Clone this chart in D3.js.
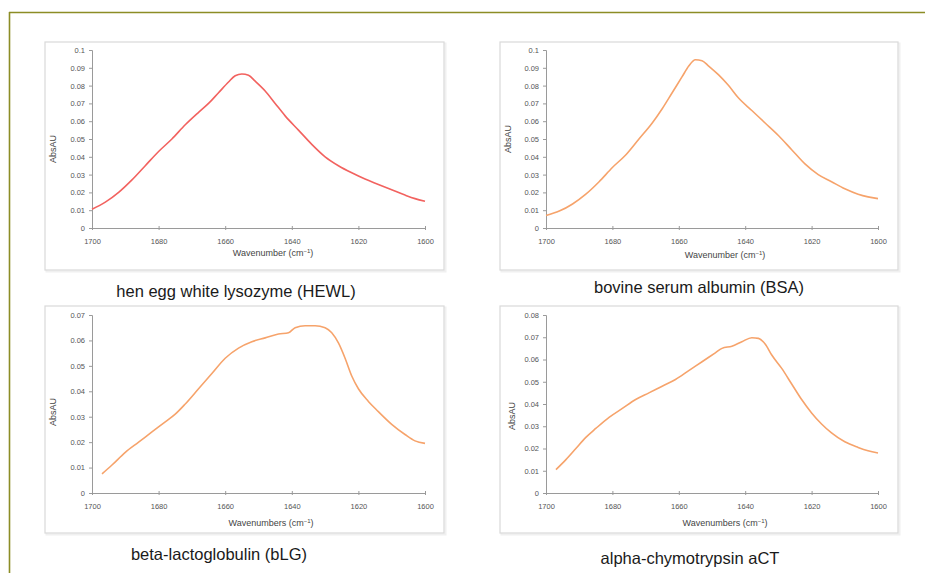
<!DOCTYPE html>
<html>
<head>
<meta charset="utf-8">
<script src="https://cdn.jsdelivr.net/npm/d3@7"></script>
<style>
  html, body { margin: 0; padding: 0; background: #fff; }
  svg { display: block; }
  text { font-family: "Liberation Sans", Arial, sans-serif; }
</style>
</head>
<body>
<svg id="chart" width="925" height="573"></svg>
<script>
// FTIR amide I spectra of four proteins (absorbance vs wavenumber)
const xTickValues = [1700, 1680, 1660, 1640, 1620, 1600];
const yTicks01 = [0, 0.01, 0.02, 0.03, 0.04, 0.05, 0.06, 0.07, 0.08, 0.09, 0.1];
const yTicks007 = [0, 0.01, 0.02, 0.03, 0.04, 0.05, 0.06, 0.07];
const yTicks008 = [0, 0.01, 0.02, 0.03, 0.04, 0.05, 0.06, 0.07, 0.08];

const panelTitles = [
  "hen egg white lysozyme (HEWL)",
  "bovine serum albumin (BSA)",
  "beta-lactoglobulin (bLG)",
  "alpha-chymotrypsin aCT"
];
const xTitles = ["Wavenumber", "Wavenumber", "Wavenumbers", "Wavenumbers"];
const yTitle = "AbsAU";

// hen egg white lysozyme
const hewlWn  = [1700, 1696, 1692, 1688, 1684, 1680, 1676, 1672, 1668, 1665, 1662, 1659, 1657, 1655, 1653, 1651, 1648, 1645, 1642, 1638, 1634, 1630, 1626, 1622, 1618, 1614, 1610, 1606, 1603, 1600];
const hewlAbs = [0.0105, 0.0145, 0.020, 0.027, 0.035, 0.043, 0.050, 0.058, 0.065, 0.070, 0.076, 0.082, 0.0855, 0.0865, 0.0858, 0.0825, 0.077, 0.070, 0.063, 0.055, 0.047, 0.040, 0.035, 0.031, 0.0275, 0.0245, 0.0215, 0.0185, 0.0165, 0.015];

// bovine serum albumin
const bsaWn  = [1700, 1696, 1692, 1688, 1684, 1680, 1676, 1672, 1668, 1665, 1662, 1659, 1657, 1655, 1653, 1651, 1648, 1645, 1642, 1638, 1634, 1630, 1626, 1622, 1618, 1614, 1610, 1606, 1603, 1600];
const bsaAbs = [0.007, 0.0095, 0.0135, 0.019, 0.026, 0.034, 0.041, 0.050, 0.059, 0.067, 0.076, 0.085, 0.091, 0.0945, 0.094, 0.091, 0.086, 0.080, 0.073, 0.066, 0.059, 0.052, 0.044, 0.036, 0.030, 0.026, 0.022, 0.019, 0.0175, 0.0165];

// beta-lactoglobulin
const blgWn  = [1697, 1694, 1690, 1686, 1682, 1678, 1675, 1672, 1668, 1664, 1660, 1656, 1652, 1648, 1644, 1641, 1639, 1636, 1633, 1630, 1628, 1626, 1624, 1622, 1620, 1617, 1614, 1610, 1606, 1603, 1600];
const blgAbs = [0.0075, 0.011, 0.016, 0.020, 0.024, 0.028, 0.031, 0.035, 0.041, 0.047, 0.053, 0.057, 0.0595, 0.061, 0.0625, 0.063, 0.065, 0.0658, 0.0658, 0.065, 0.063, 0.059, 0.053, 0.046, 0.041, 0.036, 0.032, 0.027, 0.023, 0.0205, 0.0195];

// alpha-chymotrypsin
const actWn  = [1697, 1694, 1691, 1688, 1685, 1681, 1677, 1673, 1669, 1665, 1661, 1657, 1653, 1649, 1647, 1644, 1641, 1638, 1636, 1634, 1632, 1629, 1626, 1623, 1620, 1617, 1614, 1610, 1606, 1603, 1600];
const actAbs = [0.0105, 0.015, 0.020, 0.025, 0.029, 0.034, 0.038, 0.042, 0.045, 0.048, 0.051, 0.055, 0.059, 0.063, 0.065, 0.066, 0.068, 0.0698, 0.0695, 0.067, 0.062, 0.056, 0.049, 0.042, 0.036, 0.031, 0.027, 0.023, 0.0205, 0.019, 0.018];

const svg = d3.select("#chart");

// outer frame
const frameColor = "#8c8d25";
svg.append("line").attr("x1", 9).attr("x2", 925).attr("y1", 12.5).attr("y2", 12.5)
  .attr("stroke", frameColor).attr("stroke-width", 1.6);
svg.append("line").attr("x1", 9.5).attr("x2", 9.5).attr("y1", 12).attr("y2", 573)
  .attr("stroke", frameColor).attr("stroke-width", 1.6);

const panels = [
  { wn: hewlWn, abs: hewlAbs, yTicks: yTicks01, color: "#f2625f",
    box: [45, 42, 444, 270], plot: [92, 425, 50, 228], yLabelX: 55.5, yLabelY: 149,
    xTitleX: 273, xTitleY: 256, titleX: 236, titleY: 297 },
  { wn: bsaWn, abs: bsaAbs, yTicks: yTicks01, color: "#f6a36b",
    box: [500, 42, 898, 270], plot: [546, 878, 50, 228], yLabelX: 510.5, yLabelY: 139,
    xTitleX: 725, xTitleY: 258, titleX: 699, titleY: 293 },
  { wn: blgWn, abs: blgAbs, yTicks: yTicks007, color: "#f6a36b",
    box: [45, 306, 444, 533], plot: [92, 425, 315, 493], yLabelX: 55.5, yLabelY: 412,
    xTitleX: 271, xTitleY: 526, titleX: 219, titleY: 560 },
  { wn: actWn, abs: actAbs, yTicks: yTicks008, color: "#f6a36b",
    box: [500, 306, 898, 533], plot: [546, 878, 315, 493], yLabelX: 515, yLabelY: 416,
    xTitleX: 725, xTitleY: 526, titleX: 690, titleY: 564 }
];

panels.forEach((p, i) => {
  const g = svg.append("g");
  const [bx0, by0, bx1, by1] = p.box;
  const [px0, px1, py0, py1] = p.plot;

  // chart area border with a soft shadow
  g.append("rect").attr("x", bx0 + 1.5).attr("y", by0 + 1.5)
    .attr("width", bx1 - bx0).attr("height", by1 - by0)
    .attr("fill", "none").attr("stroke", "#f0f0f0").attr("stroke-width", 2);
  g.append("rect").attr("x", bx0).attr("y", by0)
    .attr("width", bx1 - bx0).attr("height", by1 - by0)
    .attr("fill", "#fff").attr("stroke", "#d9d9d9").attr("stroke-width", 1.2);

  const x = d3.scaleLinear().domain([1700, 1600]).range([px0, px1]);
  const yMax = p.yTicks[p.yTicks.length - 1];
  const y = d3.scaleLinear().domain([0, yMax]).range([py1, py0]);

  // y axis
  const yAxis = d3.axisLeft(y).tickValues(p.yTicks).tickSize(3).tickPadding(4)
    .tickFormat(d => d === 0 ? "0" : d3.format(".2~f")(d));
  const ya = g.append("g").attr("transform", `translate(${px0},0)`).call(yAxis);
  ya.select(".domain").attr("stroke", "#9a9a9a").attr("stroke-width", 1);
  ya.selectAll(".tick line").attr("stroke", "#9a9a9a");
  ya.selectAll(".tick text").attr("fill", "#555").attr("font-size", 7.5)
    .attr("font-family", "Liberation Sans, Arial, sans-serif");

  // x axis
  const xAxis = d3.axisBottom(x).tickValues(xTickValues).tickSize(2).tickPadding(8.5)
    .tickFormat(d3.format("d"));
  const xa = g.append("g").attr("transform", `translate(0,${py1})`).call(xAxis);
  xa.select(".domain").attr("stroke", "#9a9a9a").attr("stroke-width", 1);
  xa.selectAll(".tick line").attr("stroke", "#9a9a9a").attr("y1", -2);
  xa.selectAll(".tick text").attr("fill", "#555").attr("font-size", 7.5)
    .attr("font-family", "Liberation Sans, Arial, sans-serif");

  // axis titles
  const xt = g.append("text").attr("x", p.xTitleX).attr("y", p.xTitleY)
    .attr("text-anchor", "middle").attr("font-size", 9).attr("fill", "#444");
  xt.append("tspan").text(xTitles[i] + " (cm");
  xt.append("tspan").attr("font-size", 6).attr("dy", -3.5).text("−1");
  xt.append("tspan").attr("dy", 3.5).text(")");

  g.append("text")
    .attr("transform", `translate(${p.yLabelX},${p.yLabelY}) rotate(-90)`)
    .attr("text-anchor", "middle").attr("font-size", 9).attr("fill", "#444")
    .text(yTitle);

  // spectrum
  const pts = p.wn.map((w, k) => [w, p.abs[k]]);
  const line = d3.line().x(d => x(d[0])).y(d => y(d[1])).curve(d3.curveMonotoneX);
  g.append("path").datum(pts).attr("d", line)
    .attr("fill", "none").attr("stroke", p.color).attr("stroke-width", 1.6)
    .attr("stroke-linejoin", "round");

  // caption
  g.append("text").attr("x", p.titleX).attr("y", p.titleY)
    .attr("text-anchor", "middle").attr("font-size", 16.5).attr("fill", "#1a1a1a")
    .text(panelTitles[i]);
});
</script>
</body>
</html>
